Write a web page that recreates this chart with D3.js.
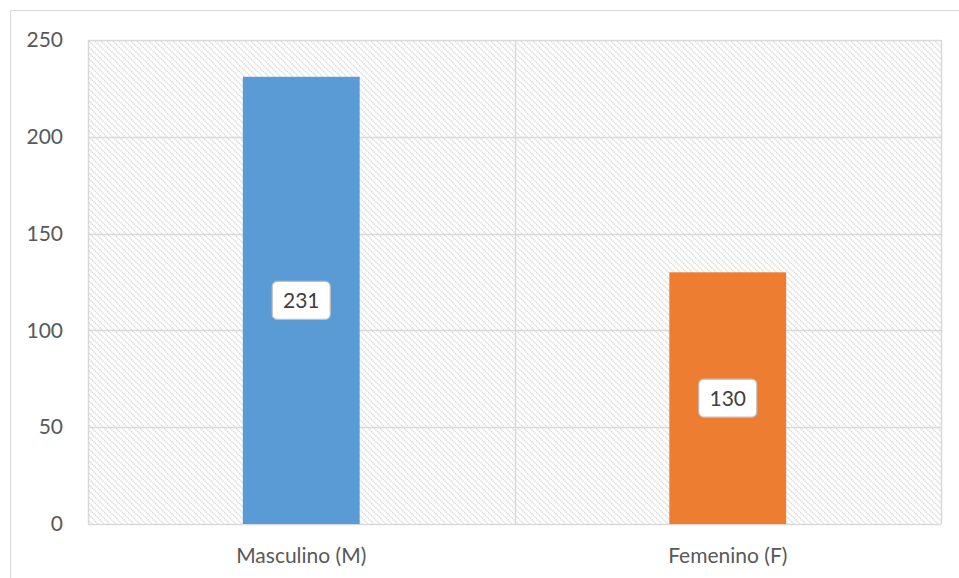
<!DOCTYPE html>
<html><head><meta charset="utf-8">
<script src="https://cdn.jsdelivr.net/npm/d3@7"></script>
<style>body{margin:0;background:#fff}svg{display:block}</style>
</head><body>
<script>
const categories = ["Masculino (M)", "Femenino (F)"];
const values = [231, 130];
const colors = ["#5B9BD5", "#ED7D31"];
const yTicks = [0, 50, 100, 150, 200, 250];

const W = 959, H = 578;
const m = {left: 88, right: 18, top: 40, bottom: 54};
const FONT = "Lato, 'Open Sans', sans-serif";
const svg = d3.select("body").append("svg").attr("width", W).attr("height", H);

// outer chart border
svg.append("rect").attr("x", 10.5).attr("y", 10.5).attr("width", W + 20).attr("height", H + 20)
  .attr("fill", "#fff").attr("stroke", "#d9d9d9").attr("stroke-width", 1);

const defs = svg.append("defs");
const pat = defs.append("pattern").attr("id", "hatch").attr("patternUnits", "userSpaceOnUse")
  .attr("width", 6).attr("height", 6);
pat.append("rect").attr("width", 6).attr("height", 6).attr("fill", "#fff");
pat.append("path").attr("d", "M-1,-1 L7,7 M-1,5 L1,7 M5,-1 L7,1")
  .attr("stroke", "#d9d9d9").attr("stroke-width", 1.3).attr("stroke-dasharray", "1.4,0.7");

const x = d3.scaleBand().domain(categories).range([m.left, W - m.right]).paddingInner(0).paddingOuter(0);
const y = d3.scaleLinear().domain([0, 250]).range([H - m.bottom, m.top]);

const x0 = x.range()[0], x1 = x.range()[1];
svg.append("rect").attr("x", x0).attr("y", y(250)).attr("width", x1 - x0).attr("height", y(0) - y(250))
  .attr("fill", "url(#hatch)");

// horizontal gridlines
svg.append("g").selectAll("line").data(yTicks).join("line")
  .attr("x1", x0).attr("x2", x1).attr("y1", d => Math.round(y(d)) + 0.5).attr("y2", d => Math.round(y(d)) + 0.5)
  .attr("stroke", "#d9d9d9").attr("stroke-width", 1.5);
// vertical gridlines at category boundaries
const vBounds = [x0, x(categories[1]), x1];
svg.append("g").selectAll("line").data(vBounds).join("line")
  .attr("x1", d => Math.round(d) + 0.5).attr("x2", d => Math.round(d) + 0.5)
  .attr("y1", y(250)).attr("y2", y(0))
  .attr("stroke", "#d9d9d9").attr("stroke-width", 1.5);

// y axis labels
const yAxis = d3.axisLeft(y).tickValues(yTicks).tickSize(0).tickPadding(25);
const gy = svg.append("g").attr("transform", `translate(${x0},0)`).call(yAxis);
gy.select(".domain").remove();
gy.selectAll("text").attr("fill", "#595959").style("font-family", FONT).style("font-size", "21px");

// x axis labels
const xAxis = d3.axisBottom(x).tickSize(0).tickPadding(24);
const gx = svg.append("g").attr("transform", `translate(0,${y(0)})`).call(xAxis);
gx.select(".domain").remove();
gx.selectAll("text").attr("fill", "#595959").style("font-family", FONT).style("font-size", "21px");

// bars
const bw = x.bandwidth() * 0.274;
svg.append("g").selectAll("rect").data(values).join("rect")
  .attr("x", (d, i) => x(categories[i]) + x.bandwidth() / 2 - bw / 2)
  .attr("width", bw)
  .attr("y", d => y(d)).attr("height", d => y(0) - y(d))
  .attr("fill", (d, i) => colors[i]);

// data labels
const lg = svg.append("g").selectAll("g").data(values).join("g")
  .attr("transform", (d, i) => `translate(${x(categories[i]) + x.bandwidth() / 2},${(y(d) + y(0)) / 2})`);
lg.append("rect").attr("x", -29).attr("y", -19).attr("width", 58).attr("height", 38).attr("rx", 5)
  .attr("fill", "#fff").attr("stroke", "#bfbfbf").attr("stroke-width", 1.2);
lg.append("text").attr("text-anchor", "middle").attr("dy", "0.35em").attr("fill", "#404040")
  .style("font-family", FONT).style("font-size", "21px")
  .text(d => d);
</script>
</body></html>
